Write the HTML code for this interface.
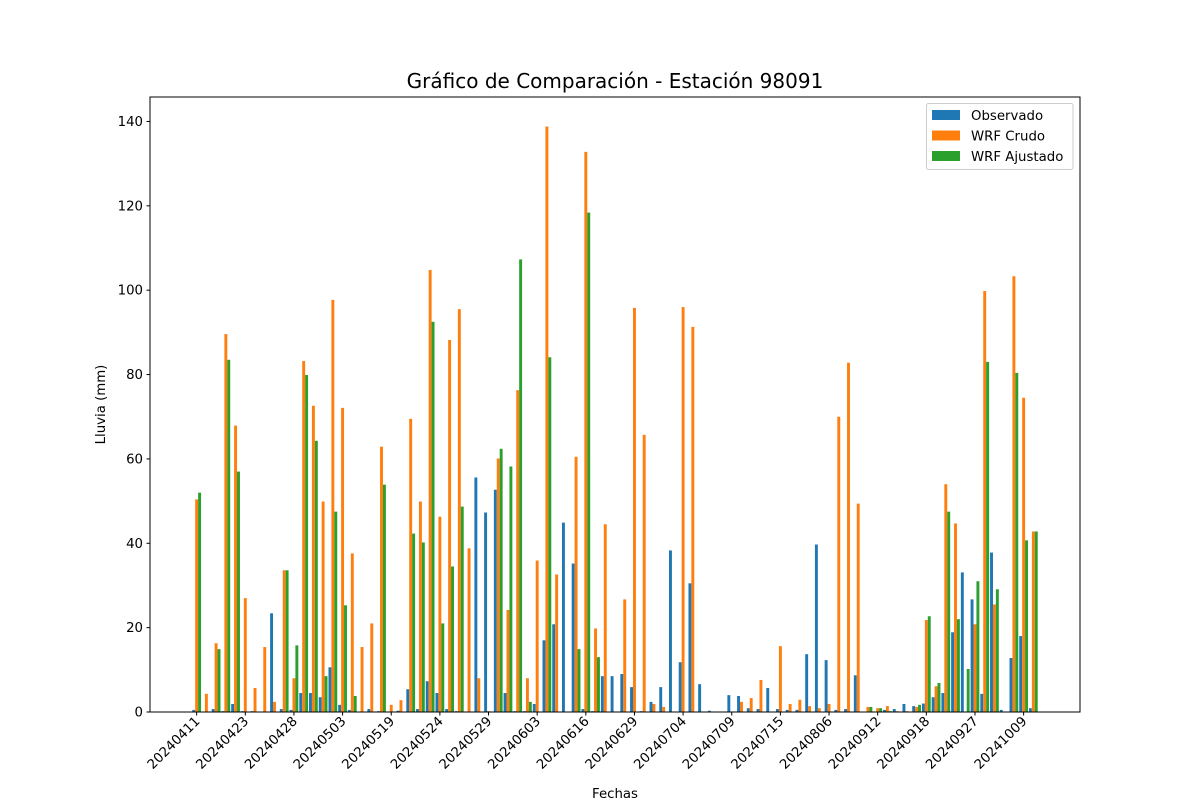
<!DOCTYPE html>
<html><head><meta charset="utf-8"><style>
body{margin:0;background:#fff;}
svg{display:block;font-family:"DejaVu Sans","Liberation Sans",sans-serif;}
</style></head><body>
<svg id="chart" width="1200" height="800" viewBox="0 0 1200 800" xmlns="http://www.w3.org/2000/svg">
<rect width="1200" height="800" fill="#fff"/>
<text x="615" y="88" text-anchor="middle" font-size="20" fill="#000">Gráfico de Comparación - Estación 98091</text>
<g id="bars"></g>
<g id="axes"></g>
<text x="615" y="798" text-anchor="middle" font-size="13.3">Fechas</text>
<text transform="translate(105,404.5) rotate(-90)" text-anchor="middle" font-size="13.3">Lluvia (mm)</text>
<g>
<rect x="926.5" y="103.5" width="146.5" height="66" rx="2" fill="#fff" stroke="#ccc"/>
<rect x="932" y="110" width="28" height="10" fill="#1f77b4"/>
<text x="971" y="120" font-size="13.3">Observado</text>
<rect x="932" y="130.5" width="28" height="10" fill="#ff7f0e"/>
<text x="971" y="140.5" font-size="13.3">WRF Crudo</text>
<rect x="932" y="151" width="28" height="10" fill="#2ca02c"/>
<text x="971" y="161" font-size="13.3">WRF Ajustado</text>
</g>
</svg>
<script>
const tickLabels = ["20240411","20240423","20240428","20240503","20240519","20240524","20240529","20240603","20240616","20240629","20240704","20240709","20240715","20240806","20240912","20240918","20240927","20241009"];
const yTicks = [0,20,40,60,80,100,120,140];
const observado = [0.5,0,0.7,0.2,1.9,0.2,0.2,0,23.4,0.7,0.5,4.5,4.5,3.5,10.6,1.7,0.5,0,0.7,0.2,0,0.3,5.4,0.7,7.3,4.5,0.7,0.2,0,55.6,47.3,52.7,4.5,0.2,0.2,1.9,17,20.8,44.9,35.2,0.7,0.2,8.5,8.5,9,5.9,0.2,2.4,5.9,38.3,11.8,30.5,6.6,0.3,0,4.0,3.8,0.9,0.7,5.7,0.7,0.5,0.5,13.7,39.7,12.3,0.5,0.7,8.7,0,0,0.5,0.7,1.9,1.4,2,3.5,4.5,18.9,33.1,26.7,4.3,37.8,0.5,12.8,18,0.9];
const wrfCrudo = [50.4,4.3,16.3,89.6,67.9,27,5.7,15.4,2.4,33.6,8,83.2,72.6,49.9,97.7,72.1,37.6,15.4,21,62.9,1.7,2.8,69.5,49.9,104.8,46.3,88.2,95.5,38.8,8,0.2,60.1,24.2,76.3,8,35.9,138.8,32.6,0,60.5,132.8,19.8,44.5,0,26.7,95.8,65.7,1.9,1.2,0,96,91.3,0,0,0,0,2.4,3.3,7.6,0,15.6,1.9,2.9,1.4,0.9,1.9,70,82.8,49.4,1.2,0.9,1.4,0.2,0.2,1.2,21.8,6.1,54,44.7,0,20.8,99.8,25.5,0,103.3,74.5,42.8];
const wrfAjustado = [52,0,14.9,83.5,57,0,0,0,0,33.6,15.8,79.9,64.3,8.5,47.5,25.3,3.8,0,0,53.9,0,0,42.3,40.2,92.5,21,34.5,48.7,0,0,0,62.4,58.2,107.3,2.4,0,84.1,0,0,14.9,118.4,13,0,0,0,0,0,0,0,0,0,0,0,0,0,0,0,0,0,0,0,0,0,0,0,0,0,0,0,1.2,0.9,0.2,0,0,1.7,22.7,6.9,47.5,22,10.2,31,83,29.1,0,80.4,40.7,42.8];
const tickEvery = 5;

const NS="http://www.w3.org/2000/svg";
const L=150,R=1080,T=97,B=712;
const n=observado.length, bw=0.3;
const dmin=-1.5*bw, dmax=(n-1)+1.5*bw, pad=(dmax-dmin)*0.05;
const xmin=dmin-pad, xmax=dmax+pad;
const xs=v=>L+(v-xmin)/(xmax-xmin)*(R-L);
const ymax=145.8;
const ys=v=>B-v/ymax*(B-T);
const barsG=document.getElementById('bars'), axesG=document.getElementById('axes');
function mk(tag,attrs,parent){const e=document.createElementNS(NS,tag);for(const k in attrs)e.setAttribute(k,attrs[k]);parent.appendChild(e);return e;}
const series=[[observado,'#1f77b4',-bw,'observado'],[wrfCrudo,'#ff7f0e',0,'wrf-crudo'],[wrfAjustado,'#2ca02c',bw,'wrf-ajustado']];
series.forEach(([arr,col,off,nm])=>{
  arr.forEach((v,i)=>{
    if(v<=0) return;
    const x0=xs(i+off-bw/2), x1=xs(i+off+bw/2);
    const r=mk('rect',{x:x0,y:ys(v),width:x1-x0,height:B-ys(v),fill:col},barsG);
    
    
  });
});
const frame=mk('rect',{x:L,y:T,width:R-L,height:B-T,fill:'none',stroke:'#000','stroke-width':1},axesG);


yTicks.forEach(t=>{
  const y=ys(t);
  mk('line',{x1:L-3.5,x2:L,y1:y,y2:y,stroke:'#000'},axesG);
  const tx=mk('text',{x:L-7,y:y+4.5,'text-anchor':'end','font-size':'13.3'},axesG);
  tx.textContent=t;
  
  
});
tickLabels.forEach((lab,k)=>{
  const x=xs(k*tickEvery);
  mk('line',{x1:x,x2:x,y1:B,y2:B+3.5,stroke:'#000'},axesG);
  const tx=mk('text',{transform:`translate(${x+4},${B+10}) rotate(-45)`,'text-anchor':'end','font-size':'13.3'},axesG);
  tx.textContent=lab;
  
  
});
</script>
</body></html>
